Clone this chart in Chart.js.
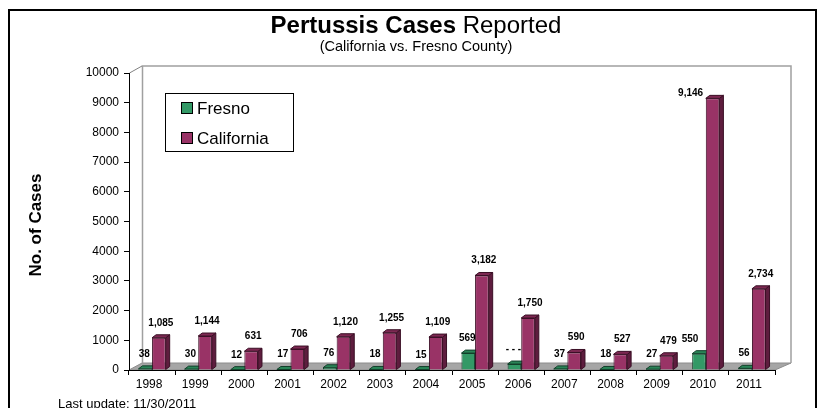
<!DOCTYPE html>
<html>
<head>
<meta charset="utf-8">
<script src="https://cdn.jsdelivr.net/npm/chart.js@4/dist/chart.umd.min.js"></script>
<style>
  html, body { margin: 0; padding: 0; background: #fff; }
  canvas { display: block; }
</style>
</head>
<body>
<canvas id="pertussisChart" width="819" height="408"></canvas>
<script>
const years = ["1998", "1999", "2000", "2001", "2002", "2003", "2004", "2005", "2006", "2007", "2008", "2009", "2010", "2011"]
const fresnoCases = [38, 30, 12, 17, 76, 18, 15, 569, 200, 37, 18, 27, 550, 56]
const californiaCases = [1085, 1144, 631, 706, 1120, 1255, 1109, 3182, 1750, 590, 527, 479, 9146, 2734]
const yMax = 10000
const yStep = 1000

const FONT = "'Liberation Sans', Arial, sans-serif"
const fresnoColors = { front: "#339966", side: "#1d6644", top: "#2a8457", line: "#123f2a" }
const californiaColors = { front: "#993366", side: "#5e1d3e", top: "#7d2852", line: "#3a0f25" }
const depthX = 4, depthY = 3
const wallX = 13, wallY = 7

// label text tweaks seen on the original (hidden 2006 Fresno label, 2010 labels pushed left)
const fresnoLabelText = i => i === 8 ? "- - -" : fresnoCases[i].toLocaleString("en-US")
const labelShift = { fresno: { 12: [-8, 0] }, california: { 12: [-24, 10] } }

const fmt = v => v.toLocaleString("en-US")

function poly(ctx, pts, fill, stroke) {
  ctx.beginPath()
  ctx.moveTo(pts[0][0], pts[0][1])
  for (let i = 1; i < pts.length; i++) ctx.lineTo(pts[i][0], pts[i][1])
  ctx.closePath()
  if (fill) { ctx.fillStyle = fill; ctx.fill() }
  if (stroke) { ctx.strokeStyle = stroke; ctx.lineWidth = 1; ctx.stroke() }
}

const chartDecor = {
  id: "chartDecor",
  beforeDraw(chart) {
    const { ctx, chartArea: a } = chart
    ctx.save()
    // floor
    poly(ctx, [[a.left, a.bottom], [a.right, a.bottom], [a.right + wallX + 3, a.bottom - wallY], [a.left + wallX, a.bottom - wallY]], "#a6a6a6", "#8c8c8c")
    // back wall outline
    ctx.strokeStyle = "#a0a0a0"
    ctx.lineWidth = 1.5
    ctx.beginPath()
    ctx.moveTo(a.left + wallX + 0.5, a.bottom - wallY)
    ctx.lineTo(a.left + wallX + 0.5, a.top - wallY)
    ctx.lineTo(a.right + wallX + 3, a.top - wallY)
    ctx.lineTo(a.right + wallX + 3, a.bottom - wallY)
    ctx.stroke()
    // top diagonal from axis to wall
    ctx.strokeStyle = "#808080"
    ctx.lineWidth = 1
    ctx.beginPath()
    ctx.moveTo(a.left + 0.5, a.top)
    ctx.lineTo(a.left + wallX, a.top - wallY)
    ctx.stroke()
    ctx.restore()
  },
  beforeDatasetsDraw(chart) {
    const { ctx } = chart
    ctx.save()
    chart.data.datasets.forEach((ds, di) => {
      const c = di === 0 ? fresnoColors : californiaColors
      chart.getDatasetMeta(di).data.forEach(bar => {
        const p = bar.getProps(["x", "y", "base", "width"], true)
        const l = p.x - p.width / 2, r = p.x + p.width / 2
        poly(ctx, [[r, p.y], [r + depthX, p.y - depthY], [r + depthX, p.base - depthY], [r, p.base]], c.side, c.line)
        poly(ctx, [[l, p.y], [l + depthX, p.y - depthY], [r + depthX, p.y - depthY], [r, p.y]], c.top, c.line)
      })
    })
    ctx.restore()
  },
  afterDatasetsDraw(chart) {
    const { ctx } = chart
    ctx.save()
    ctx.font = "bold 10px " + FONT
    ctx.fillStyle = "#000"
    ctx.textAlign = "center"
    ctx.textBaseline = "alphabetic"
    chart.getDatasetMeta(0).data.forEach((bar, i) => {
      const s = labelShift.fresno[i] || [0, 0]
      ctx.fillText(fresnoLabelText(i), bar.x - 1 + s[0], bar.y - 12 + s[1])
    })
    chart.getDatasetMeta(1).data.forEach((bar, i) => {
      const s = labelShift.california[i] || [0, 0]
      ctx.fillText(fmt(californiaCases[i]), bar.x + 2 + s[0], bar.y - 12 + s[1])
    })
    ctx.restore()
  },
  afterDraw(chart) {
    const { ctx } = chart
    ctx.save()
    // outer frame
    ctx.strokeStyle = "#000"
    ctx.lineWidth = 2
    ctx.strokeRect(9, 10, 807, 420)
    ctx.fillStyle = "#000"
    ctx.fillRect(815, 10, 2, 400)

    // title: bold + regular parts
    ctx.textBaseline = "middle"
    ctx.textAlign = "left"
    const boldPart = "Pertussis Cases ", normPart = "Reported"
    ctx.font = "bold 24px " + FONT
    const wb = ctx.measureText(boldPart).width
    ctx.font = "24px " + FONT
    const wn = ctx.measureText(normPart).width
    const tx = 416 - (wb + wn) / 2
    ctx.font = "bold 24px " + FONT
    ctx.fillText(boldPart, tx, 26)
    ctx.font = "24px " + FONT
    ctx.fillText(normPart, tx + wb, 26)

    ctx.textAlign = "center"
    ctx.font = "14.5px " + FONT
    ctx.fillText("(California vs. Fresno County)", 416, 47)

    // y axis title
    ctx.save()
    ctx.translate(36, 225)
    ctx.rotate(-Math.PI / 2)
    ctx.font = "bold 17px " + FONT
    ctx.fillText("No. of Cases", 0, 0)
    ctx.restore()

    // legend
    ctx.fillStyle = "#fff"
    ctx.fillRect(165, 93, 129, 59)
    ctx.strokeStyle = "#000"
    ctx.lineWidth = 1
    ctx.strokeRect(165.5, 93.5, 128, 58)
    const items = [["Fresno", fresnoColors.front, 108], ["California", californiaColors.front, 138]]
    ctx.textAlign = "left"
    ctx.font = "17px " + FONT
    items.forEach(([name, col, y]) => {
      ctx.fillStyle = col
      ctx.fillRect(181, y - 6, 12, 12)
      ctx.strokeStyle = "#000"
      ctx.strokeRect(181.5, y - 5.5, 11, 11)
      ctx.fillStyle = "#000"
      ctx.fillText(name, 197, y + 1)
    })

    // footer
    ctx.font = "13px " + FONT
    ctx.fillStyle = "#000"
    ctx.fillText("Last update: 11/30/2011", 58, 404)
    ctx.restore()
  }
}

new Chart(document.getElementById("pertussisChart").getContext("2d"), {
  type: "bar",
  data: {
    labels: years,
    datasets: [
      {
        label: "Fresno",
        data: fresnoCases,
        backgroundColor: fresnoColors.front,
        borderColor: fresnoColors.line,
        borderWidth: 1,
        categoryPercentage: 0.59,
        barPercentage: 1
      },
      {
        label: "California",
        data: californiaCases,
        backgroundColor: californiaColors.front,
        borderColor: californiaColors.line,
        borderWidth: 1,
        categoryPercentage: 0.59,
        barPercentage: 1
      }
    ]
  },
  options: {
    responsive: false,
    animation: false,
    devicePixelRatio: 1,
    layout: { padding: { left: 79, right: 44, top: 73, bottom: 16 } },
    plugins: {
      legend: { display: false },
      tooltip: { enabled: false }
    },
    scales: {
      x: {
        afterFit: s => { s.height = 22 },
        grid: { drawOnChartArea: false, tickLength: 5, tickColor: "#000", offset: true },
        border: { display: true, color: "#000", width: 1 },
        ticks: { color: "#000", font: { family: FONT, size: 12 }, padding: 2, labelOffset: -3, maxRotation: 0 }
      },
      y: {
        min: 0,
        max: yMax,
        afterFit: s => { s.width = 50 },
        grid: { drawOnChartArea: false, tickLength: 5, tickColor: "#000" },
        border: { display: true, color: "#000", width: 1 },
        ticks: { stepSize: yStep, color: "#000", font: { family: FONT, size: 12 }, padding: 5, callback: v => String(v) }
      }
    }
  },
  plugins: [chartDecor]
})
</script>
</body>
</html>
